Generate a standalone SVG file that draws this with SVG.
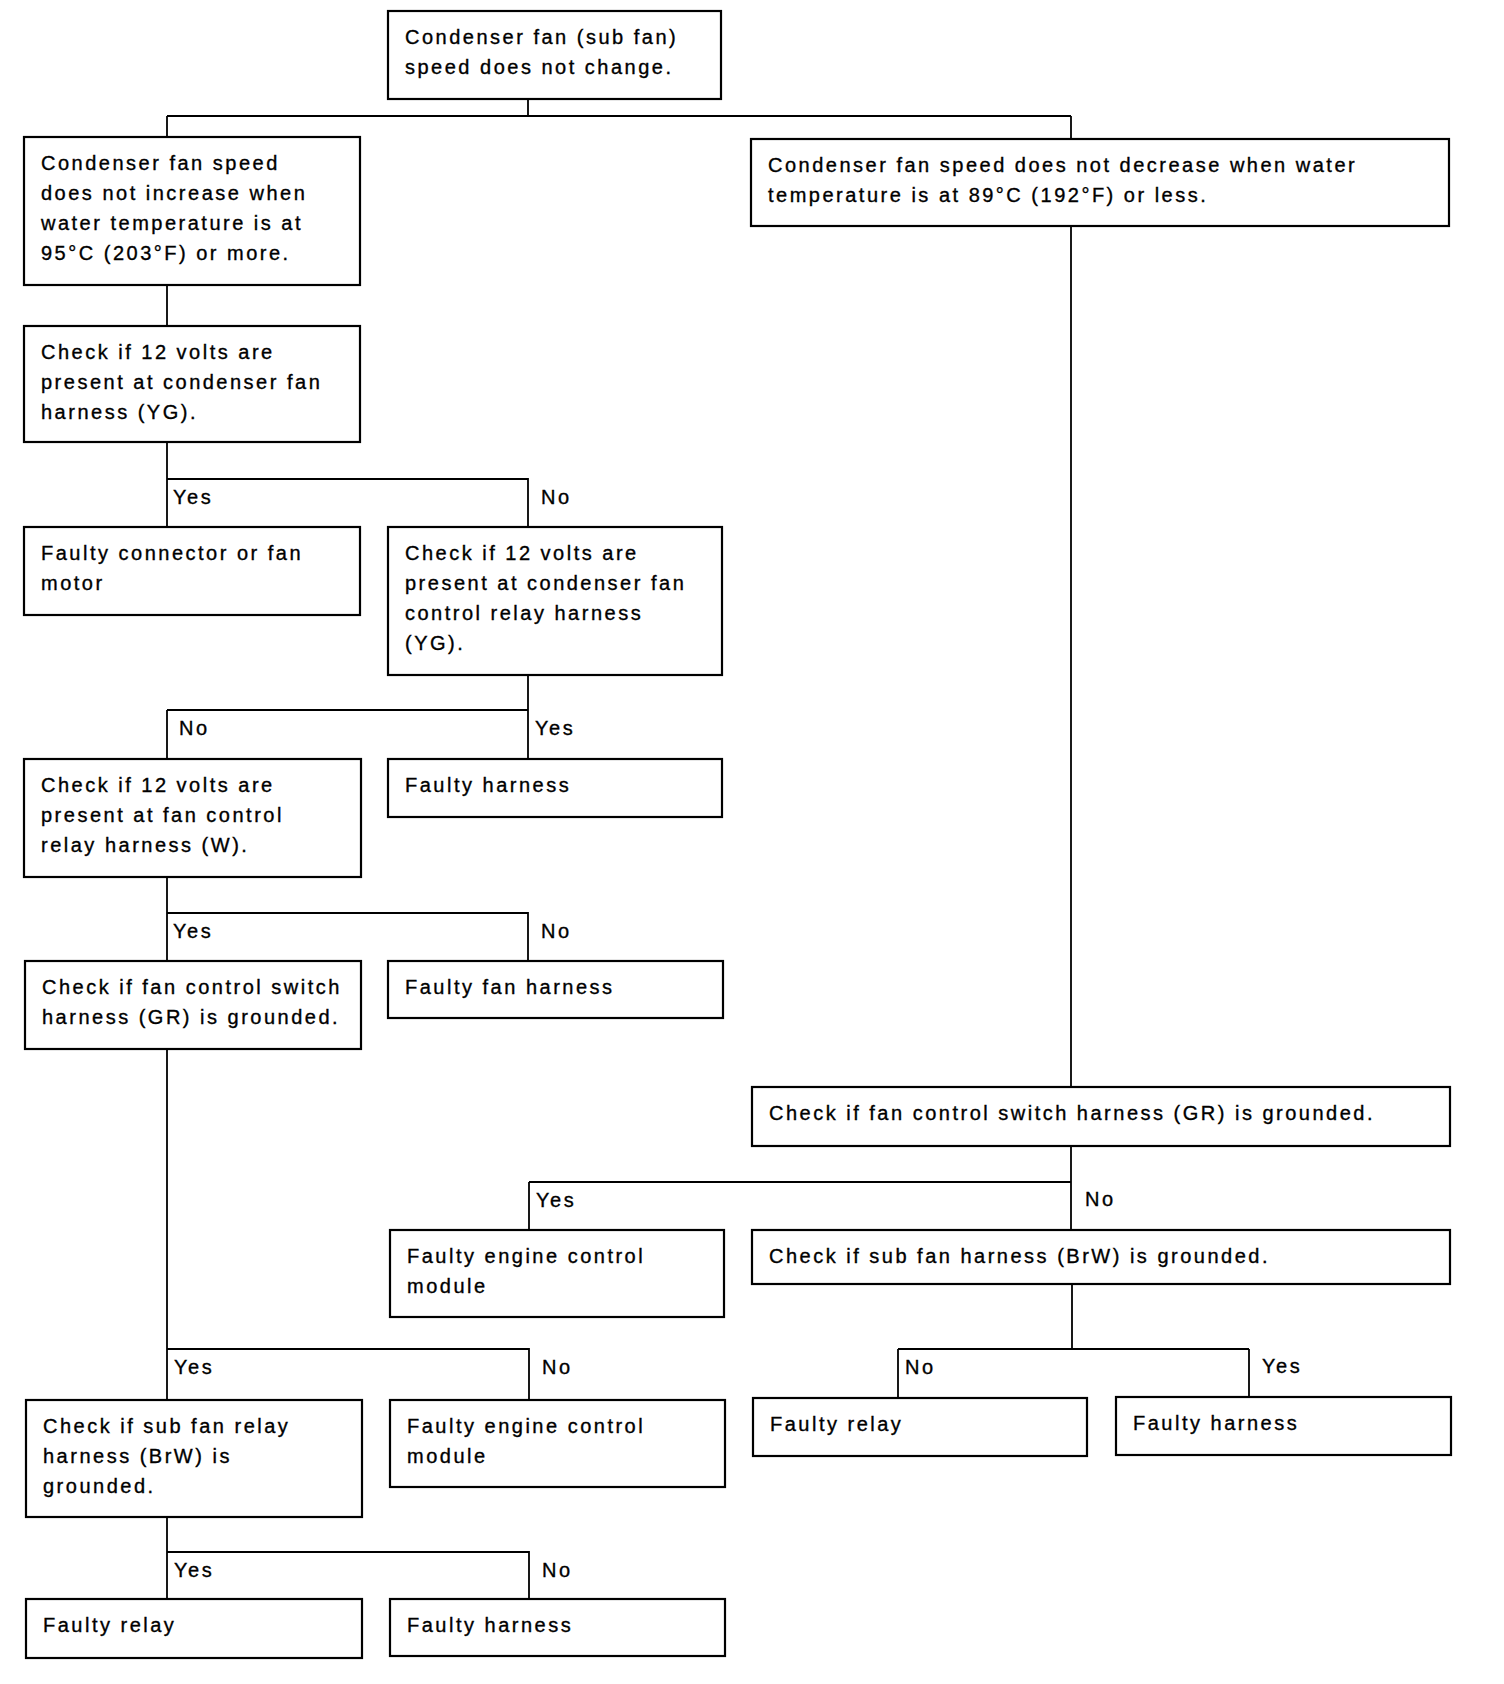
<svg xmlns="http://www.w3.org/2000/svg" width="1504" height="1684" viewBox="0 0 1504 1684">
<style>
.box{fill:#fff;stroke:#000;stroke-width:2.2}
.t{font-family:"Liberation Sans",Arial,Helvetica,sans-serif;font-size:20px;letter-spacing:2.5px;fill:#000;stroke:#000;stroke-width:0.35}
.c{stroke:#000;stroke-width:1.8;fill:none}
</style>
<rect width="1504" height="1684" fill="#fff"/>
<g id="connectors">
<path class="c" d="M528,99V116M167,116H1071M167,116V137M1071,116V139"/>
<path class="c" d="M167,285V326"/>
<path class="c" d="M167,442V527M167,479H528V527"/>
<path class="c" d="M528,675V710M167,710H528M167,710V759M528,710V759"/>
<path class="c" d="M167,877V961M167,913H528V961"/>
<path class="c" d="M167,1049V1400M167,1349H529V1400"/>
<path class="c" d="M167,1517V1599M167,1552H529V1599"/>
<path class="c" d="M1071,226V1087"/>
<path class="c" d="M1071,1146V1230M529,1182H1071M529,1182V1230"/>
<path class="c" d="M1072,1284V1349M898,1349H1249M898,1349V1398M1249,1349V1397"/>
<g class="t">
<text x="173" y="504">Yes</text><text x="541" y="504">No</text>
<text x="179" y="735">No</text><text x="535" y="735">Yes</text>
<text x="173" y="938">Yes</text><text x="541" y="938">No</text>
<text x="536" y="1207">Yes</text><text x="1085" y="1206">No</text>
<text x="905" y="1374">No</text><text x="1262" y="1373">Yes</text>
<text x="174" y="1374">Yes</text><text x="542" y="1374">No</text>
<text x="174" y="1577">Yes</text><text x="542" y="1577">No</text>
</g>
</g>
<g id="n_top"><rect class="box" x="388" y="11" width="333" height="88"/><text class="t" x="405" y="44">Condenser fan (sub fan)<tspan x="405" dy="30">speed does not change.</tspan></text></g>
<g id="n_a"><rect class="box" x="24" y="137" width="336" height="148"/><text class="t" x="41" y="170">Condenser fan speed<tspan x="41" dy="30">does not increase when</tspan><tspan x="41" dy="30">water temperature is at</tspan><tspan x="41" dy="30">95°C (203°F) or more.</tspan></text></g>
<g id="n_b"><rect class="box" x="751" y="139" width="698" height="87"/><text class="t" x="768" y="172">Condenser fan speed does not decrease when water<tspan x="768" dy="30">temperature is at 89°C (192°F) or less.</tspan></text></g>
<g id="n_c"><rect class="box" x="24" y="326" width="336" height="116"/><text class="t" x="41" y="359">Check if 12 volts are<tspan x="41" dy="30">present at condenser fan</tspan><tspan x="41" dy="30">harness (YG).</tspan></text></g>
<g id="n_d"><rect class="box" x="24" y="527" width="336" height="88"/><text class="t" x="41" y="560">Faulty connector or fan<tspan x="41" dy="30">motor</tspan></text></g>
<g id="n_e"><rect class="box" x="388" y="527" width="334" height="148"/><text class="t" x="405" y="560">Check if 12 volts are<tspan x="405" dy="30">present at condenser fan</tspan><tspan x="405" dy="30">control relay harness</tspan><tspan x="405" dy="30">(YG).</tspan></text></g>
<g id="n_f"><rect class="box" x="24" y="759" width="337" height="118"/><text class="t" x="41" y="792">Check if 12 volts are<tspan x="41" dy="30">present at fan control</tspan><tspan x="41" dy="30">relay harness (W).</tspan></text></g>
<g id="n_g"><rect class="box" x="388" y="759" width="334" height="58"/><text class="t" x="405" y="792">Faulty harness</text></g>
<g id="n_h"><rect class="box" x="25" y="961" width="336" height="88"/><text class="t" x="42" y="994">Check if fan control switch<tspan x="42" dy="30">harness (GR) is grounded.</tspan></text></g>
<g id="n_i"><rect class="box" x="388" y="961" width="335" height="57"/><text class="t" x="405" y="994">Faulty fan harness</text></g>
<g id="n_j"><rect class="box" x="752" y="1087" width="698" height="59"/><text class="t" x="769" y="1120">Check if fan control switch harness (GR) is grounded.</text></g>
<g id="n_k"><rect class="box" x="390" y="1230" width="334" height="87"/><text class="t" x="407" y="1263">Faulty engine control<tspan x="407" dy="30">module</tspan></text></g>
<g id="n_l"><rect class="box" x="752" y="1230" width="698" height="54"/><text class="t" x="769" y="1263">Check if sub fan harness (BrW) is grounded.</text></g>
<g id="n_m"><rect class="box" x="753" y="1398" width="334" height="58"/><text class="t" x="770" y="1431">Faulty relay</text></g>
<g id="n_n"><rect class="box" x="1116" y="1397" width="335" height="58"/><text class="t" x="1133" y="1430">Faulty harness</text></g>
<g id="n_o"><rect class="box" x="26" y="1400" width="336" height="117"/><text class="t" x="43" y="1433">Check if sub fan relay<tspan x="43" dy="30">harness (BrW) is</tspan><tspan x="43" dy="30">grounded.</tspan></text></g>
<g id="n_p"><rect class="box" x="390" y="1400" width="335" height="87"/><text class="t" x="407" y="1433">Faulty engine control<tspan x="407" dy="30">module</tspan></text></g>
<g id="n_q"><rect class="box" x="26" y="1599" width="336" height="59"/><text class="t" x="43" y="1632">Faulty relay</text></g>
<g id="n_r"><rect class="box" x="390" y="1599" width="335" height="57"/><text class="t" x="407" y="1632">Faulty harness</text></g>
</svg>
